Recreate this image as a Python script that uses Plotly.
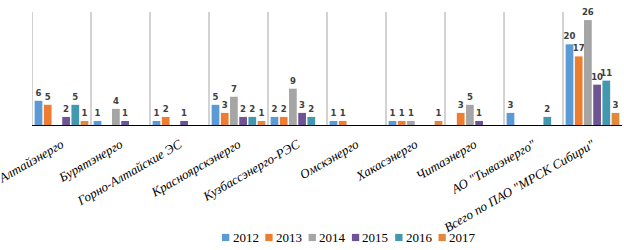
import plotly.graph_objects as go

categories = ["Алтайэнерго", "Бурятэнерго", "Горно-Алтайские ЭС", "Красноярскэнерго",
              "Кузбассэнерго-РЭС", "Омскэнерго", "Хакасэнерго", "Читаэнерго",
              "АО \"Тываэнерго\"", "Всего по ПАО \"МРСК Сибири\""]
years = ["2012", "2013", "2014", "2015", "2016", "2017"]
v2012 = [6, 1, 1, 5, 2, 1, 1, None, 3, 20]
v2013 = [5, None, 2, 3, 2, 1, 1, 3, None, 17]
v2014 = [None, 4, None, 7, 9, None, 1, 5, None, 26]
v2015 = [2, 1, 1, 2, 3, None, None, 1, None, 10]
v2016 = [5, None, None, 2, 2, None, None, None, 2, 11]
v2017 = [1, None, None, 1, None, None, 1, None, None, 3]
series = [v2012, v2013, v2014, v2015, v2016, v2017]
colors = ["#5B9BD5", "#ED7D31", "#A5A5A5", "#6E5494", "#4198AF", "#E2883D"]

W, H = 624, 250
L, R, T, B = 32, 2, 12, 125
pw, ph = W - L - R, H - T - B

def px_x(px):
    return (px - L) / pw

def px_y(py):
    return (H - B - py) / ph

fig = go.Figure()
for name, vals, col in zip(years, series, colors):
    fig.add_trace(go.Bar(
        name=name, x=categories, y=vals, marker_color=col, marker_line_width=0,
        text=[("" if v is None else str(v)) for v in vals],
        textposition="outside", cliponaxis=False, constraintext="none",
        textfont=dict(family="DejaVu Sans Condensed, Liberation Sans", size=9.5,
                      color="#404040", weight="bold"),
        showlegend=False,
    ))

for i in range(len(categories)):
    fig.add_shape(type="line", xref="x", yref="paper", x0=i - 0.5, x1=i - 0.5,
                  y0=0, y1=1, line=dict(color="#A6A6A6", width=1), layer="below")

# legend drawn manually (compact Excel-style)
leg_x0, leg_pitch, leg_yc = 222, 43.3, 237.5
for k, (name, col) in enumerate(zip(years, colors)):
    sx = leg_x0 + k * leg_pitch
    fig.add_shape(type="rect", xref="paper", yref="paper",
                  x0=px_x(sx), x1=px_x(sx + 7.3), y0=px_y(leg_yc + 3.6), y1=px_y(leg_yc - 3.6),
                  fillcolor=col, line=dict(width=0))
    fig.add_annotation(xref="paper", yref="paper", x=px_x(sx + 8.5), y=px_y(leg_yc),
                       xanchor="left", yanchor="middle", text=name, showarrow=False,
                       font=dict(family="Liberation Serif", size=13, color="#000000"))

fig.update_layout(
    width=W, height=H,
    margin=dict(l=L, r=R, t=T, b=B),
    paper_bgcolor="white", plot_bgcolor="white",
    barmode="group", bargap=0.064, bargroupgap=0.16,
)
fig.update_xaxes(showline=True, linecolor="#000000", linewidth=1, ticks="",
                 tickangle=-30, showgrid=False, automargin=False, ticklabelstandoff=6,
                 range=[-0.5, len(categories) - 0.5],
                 tickfont=dict(family="Liberation Serif", size=13, color="#000000",
                               style="italic"))
fig.update_yaxes(range=[0, 28], showticklabels=False, showgrid=False, zeroline=False,
                 showline=False, ticks="", automargin=False)

fig.write_html("out.html", config={"displayModeBar": False},
               post_script="document.body.style.margin='0';document.body.style.overflow='hidden';")
